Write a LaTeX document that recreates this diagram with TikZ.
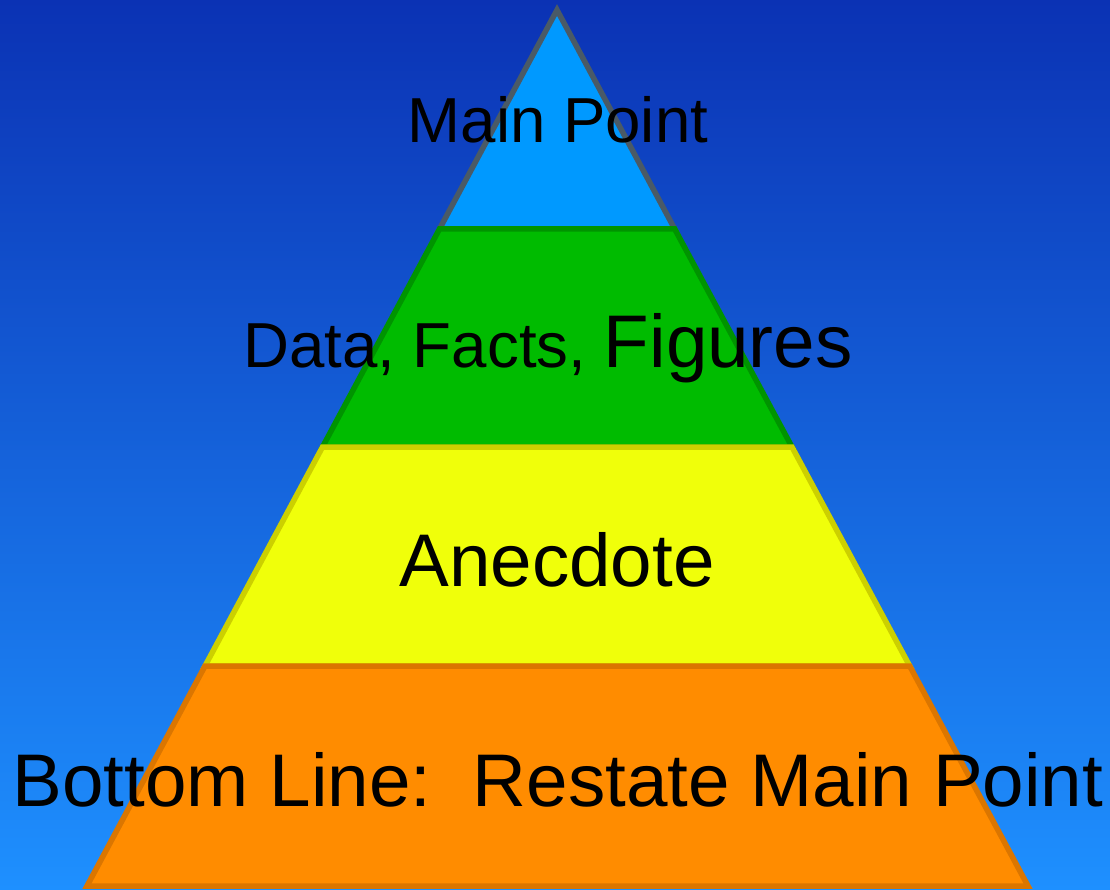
\documentclass[tikz,border=0pt]{standalone}
\usepackage{fontspec}
\setmainfont{Liberation Sans}
\definecolor{bgtop}{HTML}{0B32B4}
\definecolor{bgbot}{HTML}{1E90FF}
\definecolor{tierA}{HTML}{0099FF}
\definecolor{tierAline}{HTML}{4A5A66}
\definecolor{tierB}{HTML}{00BB00}
\definecolor{tierBline}{HTML}{009400}
\definecolor{tierC}{HTML}{F0FF0A}
\definecolor{tierCline}{HTML}{CCD000}
\definecolor{tierD}{HTML}{FF8C00}
\definecolor{tierDline}{HTML}{DB7600}
\tikzset{
  tier/.style={line width=5.5pt, line join=miter},
  lbl/.style={anchor=base, inner sep=0pt, text=black}
}
\begin{document}
\begin{tikzpicture}[x=1pt,y=-1pt]
\useasboundingbox (0,0) rectangle (1110,890);
\shade[top color=bgtop, bottom color=bgbot] (0,0) rectangle (1110,890);
% tiers
\draw[tier, fill=tierA, draw=tierAline] (557,10) -- (674.7,229) -- (439.5,229) -- cycle;
\draw[tier, fill=tierB, draw=tierBline] (439.5,229) -- (674.7,229) -- (792,447) -- (322.5,447) -- cycle;
\draw[tier, fill=tierC, draw=tierCline] (322.5,447) -- (792,447) -- (909.7,666) -- (205,666) -- cycle;
\draw[tier, fill=tierD, draw=tierDline] (205,666) -- (909.7,666) -- (1028,886) -- (87,886) -- cycle;
% labels
\node[lbl, font=\fontsize{63.6}{70}\selectfont] (t1) at (558,143) {Main Point};
\node[lbl] (t2) at (548,367) {\fontsize{63.6}{70}\selectfont Data, Facts, \fontsize{74.6}{80}\selectfont Figures};
\node[lbl, font=\fontsize{74.6}{80}\selectfont] (t3) at (557,586) {Anecdote};
\node[lbl, font=\fontsize{74.6}{80}\selectfont] (t4) at (558,806) {Bottom Line:\ \ Restate Main Point};
\end{tikzpicture}
\end{document}
